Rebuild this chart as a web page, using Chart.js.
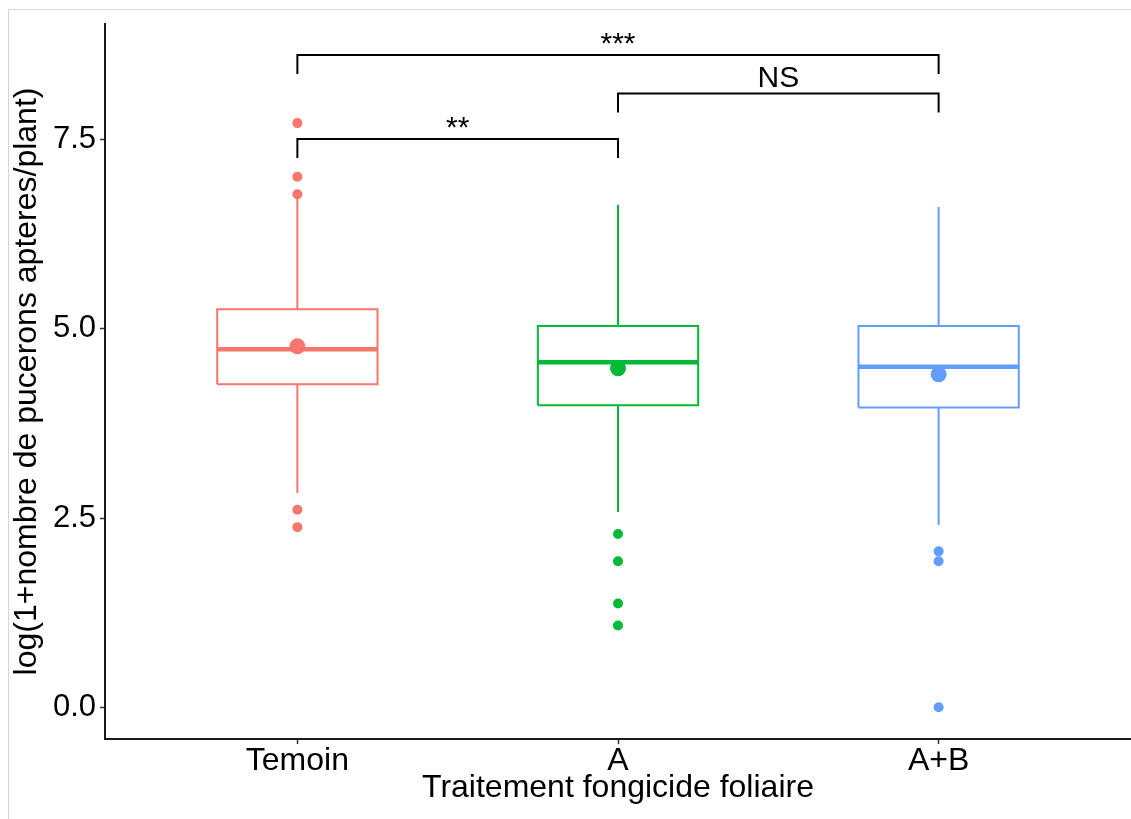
<!DOCTYPE html>
<html>
<head>
<meta charset="utf-8">
<script src="https://cdn.jsdelivr.net/npm/chart.js@4"></script>
<style>
body{margin:0;background:#fff;}
canvas{display:block;}
</style>
</head>
<body>
<canvas id="graphique" width="1131" height="819"></canvas>
<script>
// donnees
const categories = ["Temoin", "A", "A+B"];
const couleurs = ["#F8766D", "#00BA38", "#619CFF"];
const q1 = [4.27, 3.99, 3.96];
const mediane = [4.73, 4.56, 4.50];
const q3 = [5.26, 5.04, 5.04];
const moustacheBas = [2.83, 2.58, 2.41];
const moustacheHaut = [6.74, 6.64, 6.61];
const moyennes = [4.77, 4.48, 4.40];
const aberrants = [
  [7.72, 7.01, 6.78, 2.61, 2.38],
  [2.29, 1.93, 1.37, 1.08],
  [2.06, 1.93, 0.0]
];
const yTicks = [0, 2.5, 5, 7.5];

// comparaisons
const compDe = [1, 2, 1];
const compA = [2, 3, 3];
const compY = [7.51, 8.11, 8.62];
const compTexte = ["**", "NS", "***"];

const police = "'Liberation Sans', Arial, sans-serif";
const demiBoite = 0.25;
const patte = 0.25;

const datasets = [];

categories.forEach((c, i) => {
  const x = i + 1;
  // moustaches
  datasets.push({
    type: "line",
    data: [{x:x, y:moustacheBas[i]}, {x:x, y:q1[i]}, {x:x, y:null}, {x:x, y:q3[i]}, {x:x, y:moustacheHaut[i]}],
    borderColor: couleurs[i], borderWidth: 2, pointRadius: 0, spanGaps: false, fill: false, order: 4
  });
  // boite
  datasets.push({
    type: "line",
    data: [
      {x:x-demiBoite, y:q1[i]}, {x:x+demiBoite, y:q1[i]},
      {x:x+demiBoite, y:q3[i]}, {x:x-demiBoite, y:q3[i]}, {x:x-demiBoite, y:q1[i]}
    ],
    borderColor: couleurs[i], borderWidth: 2, pointRadius: 0, fill: false, order: 3
  });
  // mediane
  datasets.push({
    type: "line",
    data: [{x:x-demiBoite, y:mediane[i]}, {x:x+demiBoite, y:mediane[i]}],
    borderColor: couleurs[i], borderWidth: 4.5, pointRadius: 0, fill: false, order: 2
  });
  // points aberrants
  datasets.push({
    type: "scatter",
    data: aberrants[i].map(v => ({x:x, y:v})),
    backgroundColor: couleurs[i], borderWidth: 0, pointRadius: 5, order: 1
  });
  // moyenne
  datasets.push({
    type: "scatter",
    data: [{x:x, y:moyennes[i]}],
    backgroundColor: couleurs[i], borderWidth: 0, pointRadius: 8, order: 0
  });
});

// crochets de significativite
compY.forEach((y, k) => {
  datasets.push({
    type: "line",
    data: [
      {x:compDe[k], y:y-patte}, {x:compDe[k], y:y},
      {x:compA[k], y:y}, {x:compA[k], y:y-patte}
    ],
    borderColor: "#000", borderWidth: 2, pointRadius: 0, fill: false, order: 0
  });
});

const textesPlugin = {
  id: "textes",
  beforeDraw(chart){
    const ctx = chart.ctx;
    ctx.save();
    ctx.strokeStyle = "#d4d4d4";
    ctx.lineWidth = 1;
    ctx.beginPath();
    ctx.moveTo(8.5, 819);
    ctx.lineTo(8.5, 9.5);
    ctx.lineTo(1131, 9.5);
    ctx.stroke();
    ctx.restore();
  },
  afterDatasetsDraw(chart){
    const ctx = chart.ctx;
    const xs = chart.scales.x, ys = chart.scales.y;
    ctx.save();
    ctx.fillStyle = "#000";
    ctx.textAlign = "center";
    ctx.textBaseline = "alphabetic";
    ctx.font = "30px " + police;
    compTexte.forEach((t, k) => {
      const px = (xs.getPixelForValue(compDe[k]) + xs.getPixelForValue(compA[k])) / 2;
      const ecart = t.indexOf("*") >= 0 ? 2 : 7;
      ctx.fillText(t, px, ys.getPixelForValue(compY[k]) - ecart);
    });
    ctx.restore();
  }
};

new Chart(document.getElementById("graphique"), {
  type: "scatter",
  data: { datasets: datasets },
  options: {
    responsive: false,
    devicePixelRatio: 1,
    animation: false,
    layout: { autoPadding: false, padding: { top: 24, left: 0, right: 0, bottom: 0 } },
    plugins: { legend: { display: false }, tooltip: { enabled: false } },
    scales: {
      x: {
        type: "linear",
        min: 0.4,
        max: 3.6,
        afterBuildTicks: s => { s.ticks = categories.map((c, i) => ({ value: i + 1 })); },
        afterFit: s => { s.height = 80; s.paddingLeft = 0; s.paddingRight = 0; },
        ticks: {
          autoSkip: false, maxRotation: 0, padding: 1, color: "#000",
          font: { size: 32, family: police, lineHeight: 1 },
          callback: v => categories[Math.round(v) - 1]
        },
        grid: { drawOnChartArea: false, tickLength: 5, tickColor: "#333", tickWidth: 1.5 },
        border: { color: "#1a1a1a", width: 2 },
        title: {
          display: true, text: "Traitement fongicide foliaire", color: "#000",
          font: { size: 32, family: police }, padding: { top: 0, bottom: 12 }
        }
      },
      y: {
        type: "linear",
        min: -0.42,
        max: 9.03,
        afterBuildTicks: s => { s.ticks = yTicks.map(v => ({ value: v })); },
        afterFit: s => { s.width = 105; s.paddingTop = 0; s.paddingBottom = 0; },
        ticks: {
          padding: 4, color: "#000",
          font: { size: 31, family: police },
          callback: v => v.toFixed(1)
        },
        grid: { drawOnChartArea: false, tickLength: 5, tickColor: "#333", tickWidth: 1.5 },
        border: { color: "#1a1a1a", width: 2 },
        title: {
          display: true, text: "log(1+nombre de pucerons apteres/plant)", color: "#000",
          font: { size: 32, family: police }, padding: { top: 8, bottom: 0 }
        }
      }
    }
  },
  plugins: [textesPlugin]
});
</script>
</body>
</html>
